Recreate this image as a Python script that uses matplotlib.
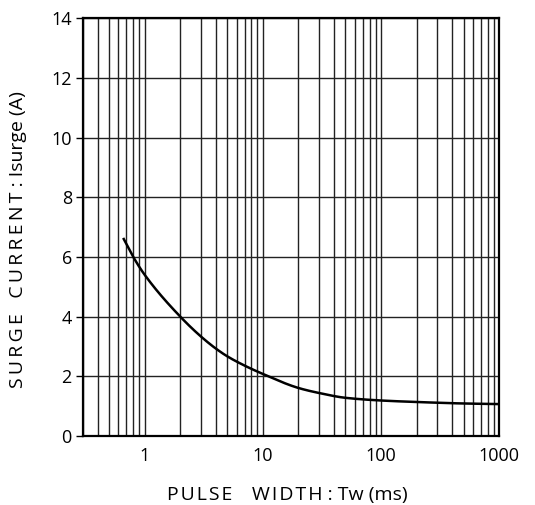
import numpy as np
import matplotlib.pyplot as plt
from matplotlib.ticker import LogLocator, FixedLocator

plt.rcParams['font.family'] = ['Open Sans', 'DejaVu Sans']

# 读图得到的曲线数据
pulse_ms = [0.665, 0.8, 1, 2, 3, 4, 5, 7, 10, 20, 30, 50, 100, 200, 500, 1000]
surge_a = [6.6, 6.0, 5.4, 4.0, 3.33, 2.93, 2.67, 2.36, 2.08, 1.61, 1.44, 1.28, 1.19, 1.14, 1.09, 1.07]

x_ticks = [1, 10, 100, 1000]
x_labels = ['1', '10', '100', '1000']
y_ticks = [0, 2, 4, 6, 8, 10, 12, 14]


def pchip(x, y, xn):  # 单调三次插值，只为了画出平滑曲线
    x = np.asarray(x, float)
    y = np.asarray(y, float)
    h = np.diff(x)
    d = np.diff(y) / h
    m = np.zeros_like(y)
    for i in range(1, len(x) - 1):
        if d[i - 1] * d[i] > 0:
            w1 = 2 * h[i] + h[i - 1]
            w2 = h[i] + 2 * h[i - 1]
            m[i] = (w1 + w2) / (w1 / d[i - 1] + w2 / d[i])
    m[0] = d[0]
    m[-1] = d[-1]
    idx = np.clip(np.searchsorted(x, xn) - 1, 0, len(h) - 1)
    t = (xn - x[idx]) / h[idx]
    h00 = 2 * t**3 - 3 * t**2 + 1
    h10 = t**3 - 2 * t**2 + t
    h01 = -2 * t**3 + 3 * t**2
    h11 = t**3 - t**2
    return h00 * y[idx] + h10 * h[idx] * m[idx] + h01 * y[idx + 1] + h11 * h[idx] * m[idx + 1]


lx = np.log10(pulse_ms)
xs = np.linspace(lx[0], lx[-1], 800)
ys = pchip(lx, surge_a, xs)

fig = plt.figure(figsize=(5.35, 5.05), dpi=100)
ax = fig.add_axes([0.155, 0.1366, 0.778, 0.8274])
ax.set_xscale('log')
ax.set_xlim(0.3, 1000)
ax.set_ylim(0, 14)

ax.xaxis.set_major_locator(FixedLocator(x_ticks))
ax.set_xticklabels(x_labels)
ax.xaxis.set_minor_locator(LogLocator(base=10, subs=np.arange(2, 10)))
ax.set_yticks(y_ticks)

ax.grid(True, which='both', axis='x', color='#222222', lw=1.0)
ax.grid(True, which='major', axis='y', color='#222222', lw=1.0)
ax.set_axisbelow(True)

ax.plot(10 ** xs, ys, color='black', lw=1.8)

for s in ax.spines.values():
    s.set_linewidth(1.6)
ax.tick_params(axis='x', which='both', length=0, labelsize=13, pad=8)
ax.tick_params(axis='y', length=5, width=1, labelsize=13, pad=3)

hs = '\u200a'
ts = '\u2009'
xl = hs.join('PULSE') + '\u2003' + hs.join('WIDTH') + ' : Tw (ms)'
yl = ts.join('SURGE') + '   ' + ts.join('CURRENT') + ' : Isurge (A)'
fig.text(0.537, 0.0099, xl, fontsize=14, ha='center', va='baseline')
fig.text(0.034, 0.525, yl, fontsize=14, ha='center', va='center', rotation=90)

plt.savefig('out.png')
